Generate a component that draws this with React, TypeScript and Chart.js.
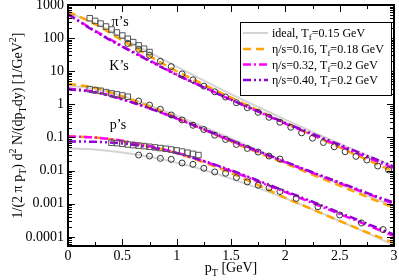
import React, { useEffect, useRef } from 'react';
import { Chart, registerables } from 'chart.js';

Chart.register(...registerables);

const SERIF = '"Liberation Serif", "Times New Roman", serif';

// ---- model curves (pT grid) ----
const PT_GRID = [0, 0.25, 0.5, 0.75, 1.0, 1.25, 1.5, 1.75, 2.0, 2.25, 2.5, 2.75, 3.0];

const PION_IDEAL = [575, 282, 102, 37.2, 13.8, 5.25, 2.04, 0.832, 0.347, 0.148, 0.0646, 0.0288, 0.0132];
const PION_V16 = [631, 263, 85.1, 28.8, 10.0, 3.98, 1.585, 0.661, 0.275, 0.1175, 0.0501, 0.0214, 0.00933];
const PION_V32 = [537, 166, 57.5, 21.4, 7.94, 3.31, 1.38, 0.603, 0.263, 0.12, 0.055, 0.0251, 0.01175];
const PION_V40 = [525, 158, 55.0, 20.4, 7.76, 3.24, 1.38, 0.617, 0.275, 0.129, 0.0603, 0.0282, 0.0132];

const KAON_IDEAL = [3.72, 2.95, 1.78, 0.933, 0.457, 0.209, 0.0933, 0.0417, 0.0186, 0.00851, 0.00389, 0.00178, 0.000832];
const KAON_V16 = [4.17, 3.16, 1.74, 0.871, 0.398, 0.174, 0.0759, 0.0347, 0.0166, 0.00759, 0.00355, 0.00162, 0.000759];
const KAON_V32 = [3.02, 2.4, 1.445, 0.759, 0.372, 0.174, 0.0794, 0.0372, 0.0178, 0.00851, 0.00417, 0.00204, 0.001];
const KAON_V40 = [2.88, 2.29, 1.41, 0.759, 0.38, 0.178, 0.0832, 0.0389, 0.0186, 0.00891, 0.00437, 0.00214, 0.00107];

const PROTON_IDEAL = [0.0468, 0.0437, 0.0355, 0.0263, 0.0174, 0.01047, 0.00575, 0.00295, 0.00145, 0.000676, 0.000302, 0.000132, 0.0000562];
const PROTON_V16 = [0.1096, 0.1, 0.0776, 0.0537, 0.0339, 0.0178, 0.00851, 0.00363, 0.00151, 0.000676, 0.000302, 0.000138, 0.0000661];
const PROTON_V32 = [0.107, 0.1, 0.0794, 0.055, 0.0347, 0.0191, 0.00977, 0.00468, 0.00224, 0.00105, 0.00049, 0.000229, 0.000107];
const PROTON_V40 = [0.0759, 0.0741, 0.0661, 0.0501, 0.0339, 0.0195, 0.01023, 0.00501, 0.0024, 0.00115, 0.000537, 0.000251, 0.0001175];

// ---- data points ----
const PION_SQ_PT = [0.2, 0.25, 0.3, 0.35, 0.4, 0.45, 0.5, 0.55, 0.6, 0.65, 0.7, 0.75];
const PION_SQ = [398, 331, 275, 224, 182, 148, 120, 95.5, 75.9, 60.3, 47.9, 38.0];
const PION_CI_PT = [0.55, 0.65, 0.75, 0.85, 0.95, 1.05, 1.15, 1.25, 1.35, 1.45, 1.55, 1.65, 1.75, 1.85, 1.95, 2.05, 2.15, 2.25, 2.35, 2.45, 2.55, 2.65, 2.75, 2.85, 2.95];
const PION_CI = [69.2, 45.7, 30.2, 19.95, 13.8, 8.32, 5.5, 3.55, 2.4, 1.66, 1.122, 0.794, 0.575, 0.407, 0.288, 0.204, 0.138, 0.0955, 0.0708, 0.0525, 0.0372, 0.0269, 0.0209, 0.0138, 0.01047];

const KAON_SQ_PT = [0.2, 0.25, 0.3, 0.35, 0.4, 0.45, 0.5, 0.55];
const KAON_SQ = [2.88, 2.69, 2.57, 2.34, 2.14, 2.0, 1.86, 1.7];
const KAON_CI_PT = [0.65, 0.75, 0.85, 0.95, 1.05, 1.15, 1.25, 1.35, 1.45, 1.55, 1.65, 1.75, 1.85, 1.95];
const KAON_CI = [1.259, 0.955, 0.708, 0.479, 0.339, 0.234, 0.174, 0.1175, 0.0871, 0.0617, 0.0468, 0.0363, 0.0275, 0.0224];

const PROTON_SQ_PT = [0.4, 0.45, 0.5, 0.55, 0.6, 0.65, 0.7, 0.75, 0.8, 0.85, 0.9, 0.95, 1.0, 1.05, 1.1, 1.15, 1.2];
const PROTON_SQ = [0.0692, 0.0676, 0.0646, 0.0617, 0.0589, 0.0569, 0.055, 0.0525, 0.0501, 0.0479, 0.0457, 0.0432, 0.0407, 0.0376, 0.0347, 0.032, 0.0295];
const PROTON_CI_PT = [0.65, 0.75, 0.85, 0.95, 1.05, 1.15, 1.25, 1.35, 1.45, 1.55, 1.65, 1.75, 1.85, 1.95, 2.1, 2.3, 2.5, 2.7, 2.9];
const PROTON_CI = [0.0295, 0.0275, 0.0234, 0.0219, 0.017, 0.0155, 0.01175, 0.00912, 0.00832, 0.00617, 0.00457, 0.00363, 0.00302, 0.00234, 0.00145, 0.000813, 0.000457, 0.000263, 0.000166];

// ---- axes ----
const X_MIN = 0;
const X_MAX = 3;
const Y_MIN = 5.3e-5;
const Y_MAX = 1000;
const X_TICKS = [0, 0.5, 1, 1.5, 2, 2.5, 3];
const X_TICK_LABELS = ['0', '0.5', '1', '1.5', '2', '2.5', '3'];
const X_MINOR = [0.25, 0.75, 1.25, 1.75, 2.25, 2.75];
const Y_TICKS = [1000, 100, 10, 1, 0.1, 0.01, 0.001, 0.0001];
const Y_TICK_LABELS = ['1000', '100', '10', '1', '0.1', '0.01', '0.001', '0.0001'];

const SPECIES_LABELS = [
  { text: 'π’s', pt: 0.48, v: 290 },
  { text: 'K’s', pt: 0.47, v: 14.5 },
  { text: 'p’s', pt: 0.46, v: 0.23 },
];

type Seg = { t: string; sub?: boolean; sup?: boolean };

const MODELS = [
  { key: 'ideal', color: '#d4d4d4', dash: [] as number[], width: 2, sets: [PION_IDEAL, KAON_IDEAL, PROTON_IDEAL],
    legend: [{ t: 'ideal, T' }, { t: 'f', sub: true }, { t: '=0.15 GeV' }] as Seg[] },
  { key: 'v16', color: '#ffa500', dash: [8, 5], width: 2.5, sets: [PION_V16, KAON_V16, PROTON_V16],
    legend: [{ t: 'η/s=0.16, T' }, { t: 'f', sub: true }, { t: '=0.18 GeV' }] as Seg[] },
  { key: 'v32', color: '#ff00ff', dash: [8, 3, 2, 3], width: 2.5, sets: [PION_V32, KAON_V32, PROTON_V32],
    legend: [{ t: 'η/s=0.32, T' }, { t: 'f', sub: true }, { t: '=0.2 GeV' }] as Seg[] },
  { key: 'v40', color: '#9400d3', dash: [8, 3, 2, 3, 2, 3], width: 2.5, sets: [PION_V40, KAON_V40, PROTON_V40],
    legend: [{ t: 'η/s=0.40, T' }, { t: 'f', sub: true }, { t: '=0.2 GeV' }] as Seg[] },
];

function drawRich(ctx: CanvasRenderingContext2D, segs: Seg[], x: number, y: number, size: number, align: 'left' | 'center') {
  const small = Math.round(size * 0.72);
  let w = 0;
  const widths: number[] = [];
  for (const s of segs) {
    ctx.font = `${s.sub || s.sup ? small : size}px ${SERIF}`;
    const m = ctx.measureText(s.t).width;
    widths.push(m);
    w += m;
  }
  let cx = align === 'center' ? x - w / 2 : x;
  ctx.textAlign = 'left';
  ctx.textBaseline = 'alphabetic';
  segs.forEach((s, i) => {
    ctx.font = `${s.sub || s.sup ? small : size}px ${SERIF}`;
    const dy = s.sub ? size * 0.28 : s.sup ? -size * 0.42 : 0;
    ctx.fillText(s.t, cx, y + dy);
    cx += widths[i];
  });
}

const decorPlugin = {
  id: 'decor',
  afterDatasetsDraw(chart: any) {
    const { ctx, chartArea: a, scales } = chart;
    const xs = scales.x;
    const ys = scales.y;
    ctx.save();
    ctx.strokeStyle = '#000';
    ctx.fillStyle = '#000';
    ctx.lineWidth = 1;
    ctx.setLineDash([]);
    const MAJ = 7;
    const MIN = 4;
    const vTick = (v: number, len: number) => {
      const px = Math.round(xs.getPixelForValue(v)) + 0.5;
      ctx.beginPath();
      ctx.moveTo(px, a.bottom);
      ctx.lineTo(px, a.bottom - len);
      ctx.moveTo(px, a.top);
      ctx.lineTo(px, a.top + len);
      ctx.stroke();
    };
    const hTick = (v: number, len: number) => {
      const py = Math.round(ys.getPixelForValue(v)) + 0.5;
      if (py < a.top || py > a.bottom) return;
      ctx.beginPath();
      ctx.moveTo(a.left, py);
      ctx.lineTo(a.left + len, py);
      ctx.moveTo(a.right, py);
      ctx.lineTo(a.right - len, py);
      ctx.stroke();
    };
    X_TICKS.forEach((v) => vTick(v, MAJ));
    X_MINOR.forEach((v) => vTick(v, MIN));
    Y_TICKS.forEach((v) => hTick(v, MAJ));
    for (const d of [1e-5, 1e-4, 1e-3, 1e-2, 1e-1, 1, 10, 100]) {
      for (let m = 2; m <= 9; m++) {
        const v = m * d;
        if (v > Y_MIN && v < Y_MAX) hTick(v, MIN);
      }
    }
    // frame
    ctx.lineWidth = 2;
    ctx.strokeRect(a.left, a.top, a.right - a.left, a.bottom - a.top);

    // species labels
    ctx.font = `14px ${SERIF}`;
    ctx.textAlign = 'center';
    ctx.textBaseline = 'middle';
    for (const l of SPECIES_LABELS) {
      ctx.fillText(l.text, xs.getPixelForValue(l.pt), ys.getPixelForValue(l.v));
    }

    // legend
    const bx = 240.5, by = 22.5, bw = 151, bh = 73;
    ctx.fillStyle = '#fff';
    ctx.fillRect(bx, by, bw, bh);
    ctx.lineWidth = 1;
    ctx.strokeStyle = '#000';
    ctx.strokeRect(bx, by, bw, bh);
    const rowY = [33, 49, 64.5, 80];
    MODELS.forEach((m, i) => {
      const yy = rowY[i];
      ctx.save();
      ctx.strokeStyle = m.color;
      ctx.lineWidth = m.width;
      ctx.setLineDash(m.dash);
      ctx.beginPath();
      ctx.moveTo(243, yy);
      ctx.lineTo(268, yy);
      ctx.stroke();
      ctx.restore();
      ctx.fillStyle = '#000';
      drawRich(ctx, m.legend, 272, yy + 4, 12, 'left');
    });

    // axis titles
    ctx.fillStyle = '#000';
    drawRich(ctx, [{ t: 'p' }, { t: 'T', sub: true }, { t: ' [GeV]' }], (a.left + a.right) / 2, 272, 14, 'center');
    ctx.save();
    ctx.translate(22, (a.top + a.bottom) / 2);
    ctx.rotate(-Math.PI / 2);
    drawRich(
      ctx,
      [
        { t: '1/(2 π p' }, { t: 'T', sub: true }, { t: ') d' }, { t: '2', sup: true },
        { t: ' N/(dp' }, { t: 'T', sub: true }, { t: 'dy) [1/GeV' }, { t: '2', sup: true }, { t: ']' },
      ],
      0, 0, 14, 'center'
    );
    ctx.restore();
    ctx.restore();
  },
};

function pts(xs: number[], ys: number[]) {
  return xs.map((x, i) => ({ x, y: ys[i] }));
}

export default function App() {
  const ref = useRef<HTMLCanvasElement | null>(null);
  useEffect(() => {
    if (!ref.current) return;
    const circle = (d: { x: number; y: number }[]) => ({
      data: d, showLine: false, pointStyle: 'circle', pointRadius: 3, pointBorderWidth: 1,
      borderColor: '#333', pointBorderColor: '#333', backgroundColor: 'rgba(0,0,0,0)', pointBackgroundColor: 'rgba(0,0,0,0)',
    });
    const square = (d: { x: number; y: number }[]) => ({
      data: d, showLine: false, pointStyle: 'rect', pointRadius: 3.9, pointBorderWidth: 1,
      borderColor: '#555', pointBorderColor: '#555', backgroundColor: 'rgba(0,0,0,0)', pointBackgroundColor: 'rgba(0,0,0,0)',
    });
    const datasets: any[] = [
      circle(pts(PION_CI_PT, PION_CI)),
      square(pts(PION_SQ_PT, PION_SQ)),
      circle(pts(KAON_CI_PT, KAON_CI)),
      square(pts(KAON_SQ_PT, KAON_SQ)),
      circle(pts(PROTON_CI_PT, PROTON_CI)),
      square(pts(PROTON_SQ_PT, PROTON_SQ)),
    ];
    // models: later in list drawn first (underneath)
    const order = [3, 2, 1, 0];
    for (const mi of order) {
      const m = MODELS[mi];
      for (const s of m.sets) {
        datasets.push({
          data: pts(PT_GRID, s), showLine: true, pointRadius: 0, borderColor: m.color, borderWidth: m.width,
          borderDash: m.dash, borderCapStyle: 'butt', fill: false, cubicInterpolationMode: 'monotone',
        });
      }
    }
    const chart = new Chart(ref.current, {
      type: 'line',
      data: { datasets },
      options: {
        animation: false,
        responsive: false,
        devicePixelRatio: 1,
        events: [],
        layout: { padding: { left: 8, right: 4, top: 5, bottom: 0 } },
        plugins: { legend: { display: false }, tooltip: { enabled: false } },
        scales: {
          x: {
            type: 'linear', min: X_MIN, max: X_MAX,
            grid: { display: false, drawTicks: false }, border: { display: false },
            afterBuildTicks: (s: any) => { s.ticks = X_TICKS.map((v) => ({ value: v })); },
            afterFit: (s: any) => { s.height = 34; s.paddingLeft = 0; s.paddingRight = 0; },
            ticks: {
              autoSkip: false, maxRotation: 0, padding: 2, color: '#000',
              font: { family: SERIF, size: 14 },
              callback: (v: any) => X_TICK_LABELS[X_TICKS.indexOf(Number(v))] ?? '',
            },
          },
          y: {
            type: 'logarithmic', min: Y_MIN, max: Y_MAX,
            grid: { display: false, drawTicks: false }, border: { display: false },
            afterBuildTicks: (s: any) => { s.ticks = Y_TICKS.map((v) => ({ value: v })); },
            afterFit: (s: any) => { s.width = 60; s.paddingTop = 0; s.paddingBottom = 0; },
            ticks: {
              autoSkip: false, padding: 4, color: '#000',
              font: { family: SERIF, size: 14 },
              callback: (v: any) => {
                const i = Y_TICKS.findIndex((t) => Math.abs(t - Number(v)) / t < 1e-6);
                return i >= 0 ? Y_TICK_LABELS[i] : '';
              },
            },
          },
        },
      },
      plugins: [decorPlugin],
    } as any);
    return () => chart.destroy();
  }, []);
  return (
    <div style={{ position: 'fixed', left: 0, top: 0, width: 399, height: 280, background: '#fff' }}>
      <canvas ref={ref} width={399} height={280} style={{ width: 399, height: 280, display: 'block' }} />
    </div>
  );
}
